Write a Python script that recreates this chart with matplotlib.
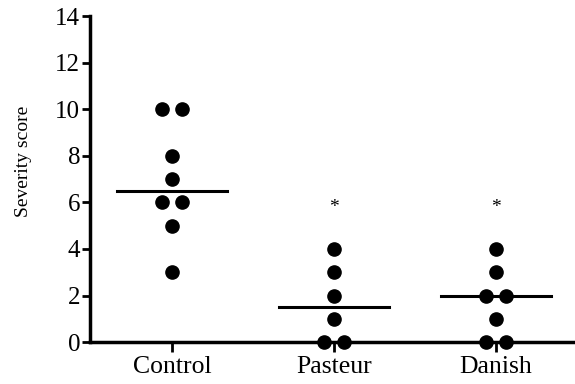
import numpy as np
import matplotlib.pyplot as plt

plt.rcParams['font.family'] = ['Liberation Serif', 'DejaVu Serif']

groups = ['Control', 'Pasteur', 'Danish']
# points per group: (score, horizontal offset slot)
control = [10, 10, 8, 7, 6, 6, 5, 3]
control_off = [-1, 1, 0, 0, -1, 1, 0, 0]
pasteur = [4, 3, 2, 1, 0, 0]
pasteur_off = [0, 0, 0, 0, -1, 1]
danish = [4, 3, 2, 2, 1, 0, 0]
danish_off = [0, 0, -1, 1, 0, -1, 1]
medians = [6.5, 1.5, 2.0]
star_y = [None, 5.8, 5.8]

fig = plt.figure(figsize=(5.75, 3.84), dpi=100)
ax = fig.add_axes([0.1565, 0.109, 0.8435, 0.849])

step = 0.062
for i, (vals, offs) in enumerate([(control, control_off), (pasteur, pasteur_off), (danish, danish_off)]):
    xs = i + np.array(offs) * step
    ax.plot(xs, vals, 'o', color='black', markersize=9.5, clip_on=False, zorder=3)
    ax.plot([i - 0.34, i + 0.34], [medians[i], medians[i]], color='black', lw=2.2, zorder=2)
    if star_y[i] is not None:
        ax.text(i, star_y[i], '*', ha='center', va='center', fontsize=14)

ax.set_xlim(-0.506, 2.49)
ax.set_ylim(0, 14)
ax.set_yticks(range(0, 15, 2))
ax.set_xticks(range(3))
ax.set_xticklabels(groups, fontsize=18.5)
ax.tick_params(axis='y', labelsize=18, width=2, length=6, pad=1)
ax.tick_params(axis='x', width=2, length=7, pad=3)
ax.set_ylabel('Severity score', fontsize=14)
ax.yaxis.set_label_coords(-0.12, 0.555)
for s in ['top', 'right']:
    ax.spines[s].set_visible(False)
for s in ['left', 'bottom']:
    ax.spines[s].set_linewidth(2.5)

fig.savefig('out.png', dpi=100)
